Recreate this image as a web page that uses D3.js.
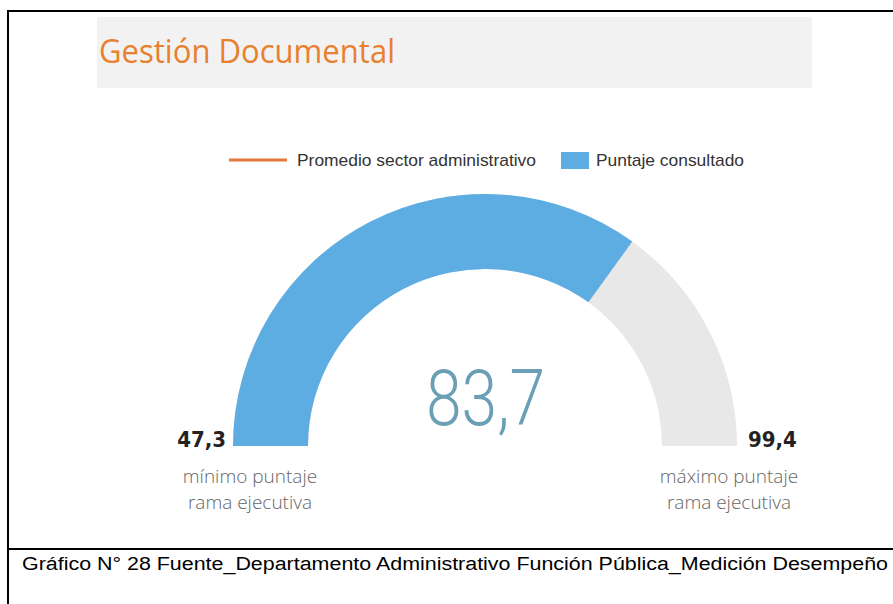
<!DOCTYPE html>
<html>
<head>
<meta charset="utf-8">
<script src="https://cdn.jsdelivr.net/npm/d3@7"></script>
<style>
  body { margin: 0; background: #fff; }
</style>
</head>
<body>
<script>
// gauge values
var minValue = [47.3]
var maxValue = [99.4]
var scoreValue = [83.7]
var legendLabels = ["Promedio sector administrativo", "Puntaje consultado"]
var sideLabels = [["mínimo puntaje", "rama ejecutiva"], ["máximo puntaje", "rama ejecutiva"]]
var titleText = ["Gestión Documental"]
var captionText = ["Gráfico N° 28 Fuente_Departamento Administrativo Función Pública_Medición Desempeño"]

var fmt = function(v) { return d3.format(".1f")(v).replace(".", ",") }

var svg = d3.select("body").append("svg")
          .attr("width", 893)
          .attr("height", 604)

// frame
svg.append("line").attr("x1", 8).attr("x2", 893).attr("y1", 11).attr("y2", 11)
   .style("stroke", "#000").style("stroke-width", 2)
svg.append("line").attr("x1", 8).attr("x2", 8).attr("y1", 10).attr("y2", 604)
   .style("stroke", "#000").style("stroke-width", 2)
svg.append("line").attr("x1", 8).attr("x2", 893).attr("y1", 549).attr("y2", 549)
   .style("stroke", "#000").style("stroke-width", 2)

// title band
svg.append("rect").attr("x", 97).attr("y", 17).attr("width", 715).attr("height", 71)
   .style("fill", "#f2f2f2")
svg.append("text").attr("x", 99).attr("y", 63)
   .text(titleText[0])
   .attr("textLength", 296).attr("lengthAdjust", "spacingAndGlyphs")
   .style("font-family", "'Open Sans', sans-serif")
   .style("font-size", "33px")
   .style("fill", "#E8802E")

// legend
svg.append("line").attr("x1", 229).attr("x2", 287).attr("y1", 160).attr("y2", 160)
   .style("stroke", "#E07B39").style("stroke-width", 3)
svg.append("text").attr("x", 297).attr("y", 166).text(legendLabels[0])
   .attr("textLength", 239).attr("lengthAdjust", "spacingAndGlyphs")
   .style("font-family", "'Liberation Sans', Arial, sans-serif")
   .style("font-size", "17px").style("fill", "#333")
svg.append("rect").attr("x", 561).attr("y", 152).attr("width", 28).attr("height", 17)
   .style("fill", "#5DADE2")
svg.append("text").attr("x", 596).attr("y", 166).text(legendLabels[1])
   .attr("textLength", 148).attr("lengthAdjust", "spacingAndGlyphs")
   .style("font-family", "'Liberation Sans', Arial, sans-serif")
   .style("font-size", "17px").style("fill", "#333")

// gauge
var cx = 485, cy = 446
var angle = d3.scaleLinear()
              .domain([minValue[0], maxValue[0]])
              .range([-Math.PI / 2, Math.PI / 2])
var arc = d3.arc().innerRadius(177).outerRadius(252)

var g = svg.append("g").attr("transform", "translate(" + cx + "," + cy + ")")
g.append("path")
 .attr("d", arc({startAngle: angle(minValue[0]), endAngle: angle(maxValue[0])}))
 .style("fill", "#E8E8E8")
g.append("path")
 .attr("d", arc({startAngle: angle(minValue[0]), endAngle: angle(scoreValue[0])}))
 .style("fill", "#5DADE2")

// center value
svg.append("text").attr("x", 426).attr("y", 425)
   .text(fmt(scoreValue[0]))
   .attr("textLength", 119).attr("lengthAdjust", "spacingAndGlyphs")
   .style("font-family", "Roboto, sans-serif")
   .style("font-weight", 300)
   .style("font-size", "78px")
   .style("fill", "#6A9FB5")

// min / max
svg.append("text").attr("x", 226).attr("y", 447).attr("text-anchor", "end")
   .text(fmt(minValue[0]))
   .style("font-family", "'DejaVu Sans Condensed', 'DejaVu Sans', sans-serif")
   .style("font-weight", "bold")
   .style("font-size", "22px").style("fill", "#222")
svg.append("text").attr("x", 748).attr("y", 447).attr("text-anchor", "start")
   .text(fmt(maxValue[0]))
   .style("font-family", "'DejaVu Sans Condensed', 'DejaVu Sans', sans-serif")
   .style("font-weight", "bold")
   .style("font-size", "22px").style("fill", "#222")

var sideX = [250, 729]
sideLabels.forEach(function(lines, i) {
  lines.forEach(function(l, j) {
    svg.append("text").attr("x", sideX[i]).attr("y", 483 + j * 26)
       .attr("text-anchor", "middle")
       .text(l)
       .style("font-family", "'Open Sans', sans-serif")
       .style("font-weight", 300)
       .style("font-size", "19px").style("fill", "#666")
  })
})

// caption
svg.append("text").attr("x", 22).attr("y", 570).text(captionText[0])
   .attr("textLength", 866).attr("lengthAdjust", "spacingAndGlyphs")
   .style("font-family", "'Liberation Sans', Arial, sans-serif")
   .style("font-size", "18px").style("fill", "#000")
</script>
</body>
</html>
